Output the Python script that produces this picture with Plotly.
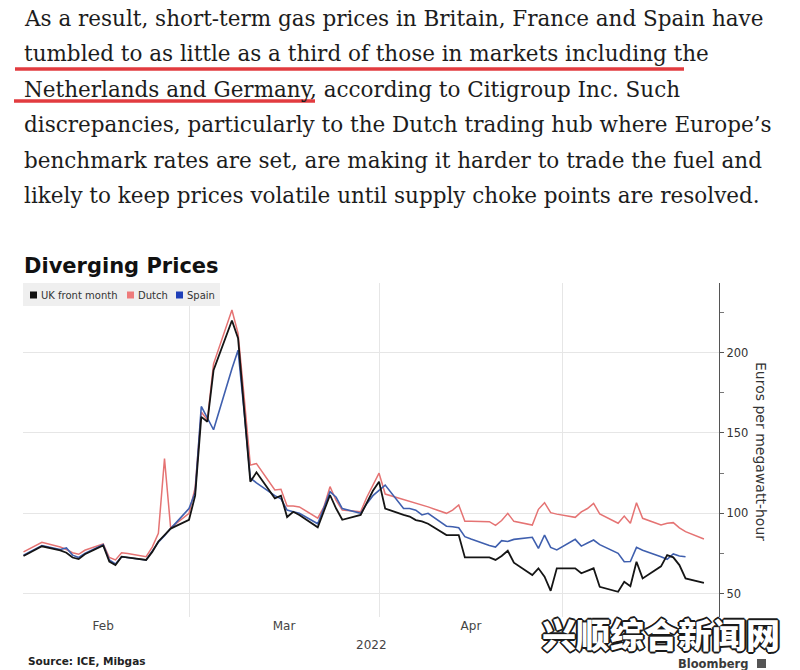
import plotly.graph_objects as go

# ---------------- data ----------------
dates = [
    "2022-02-02", "2022-02-03", "2022-02-04", "2022-02-05", "2022-02-08", "2022-02-09", "2022-02-10",
    "2022-02-11", "2022-02-12", "2022-02-15", "2022-02-16", "2022-02-17", "2022-02-18", "2022-02-19",
    "2022-02-22", "2022-02-23", "2022-02-24", "2022-02-25", "2022-02-26",
    "2022-03-01", "2022-03-02", "2022-03-03", "2022-03-04", "2022-03-05", "2022-03-08", "2022-03-09",
    "2022-03-10", "2022-03-11", "2022-03-12", "2022-03-15", "2022-03-16", "2022-03-17", "2022-03-18",
    "2022-03-19", "2022-03-22", "2022-03-23", "2022-03-24", "2022-03-25", "2022-03-26", "2022-03-29",
    "2022-03-30", "2022-03-31",
    "2022-04-01", "2022-04-02", "2022-04-05", "2022-04-06", "2022-04-07", "2022-04-08", "2022-04-09",
    "2022-04-12", "2022-04-13", "2022-04-14", "2022-04-15", "2022-04-16", "2022-04-19", "2022-04-20",
    "2022-04-21", "2022-04-22", "2022-04-23", "2022-04-26", "2022-04-27", "2022-04-28", "2022-04-29",
    "2022-04-30",
    "2022-05-03", "2022-05-04", "2022-05-05", "2022-05-06", "2022-05-07", "2022-05-10", "2022-05-11",
    "2022-05-12", "2022-05-13", "2022-05-14", "2022-05-17", "2022-05-18", "2022-05-19", "2022-05-20",
    "2022-05-21", "2022-05-24",
]

uk_front_month = [
    73.4, 75.5, 77.5, 79.5, 77, 75.5, 72.5, 71.5, 74.5, 80, 70, 67.8, 73, 72.5, 71, 76, 82.5, 86.5, 90.5,
    96, 111, 160, 157, 189, 220, 209, 166, 119.7, 125.5, 109.3, 111, 97.7, 101, 99, 91.3, 101, 111.4, 103,
    96, 99, 107, 114,
    119.7, 103, 99, 98, 95.8, 95, 93.5, 86.5, 86.5, 86.5, 72.6, 72.6, 72.6, 71, 73.5, 76.7, 69.3, 61.6,
    65.8, 60.6, 51.8, 65.8,
    65.8, 62.7, 64.5, 65.8, 54.3, 51.2, 57.4, 54.7, 69.9, 59.5, 67, 74, 72.6, 67.8, 59.5, 56.8,
]

dutch = [
    76, 78, 80, 82, 79, 77.5, 75.5, 74.5, 77, 81, 72.5, 71, 75.5, 75, 73, 79, 87.5, 134, 91,
    100, 116, 163, 158, 193, 226.5, 212, 172, 130, 131, 114.5, 115, 104.5, 104.5, 104, 97, 104, 116.6,
    108, 102, 101, 110, 118,
    125, 112, 108.6, 107.5, 106.6, 105, 104, 100, 102, 105.2, 95, 95, 94.8, 92.5, 95.5, 100, 95, 92.7,
    102.5, 106.6, 100.4, 99.5,
    97.5, 100.9, 103, 106.2, 99.7, 93.8, 98.3, 93.8, 106.6, 96.9, 92.7, 93.8, 94.2, 91, 88.6, 84,
]

spain = [
    74, 76, 78, 80, 77.5, 78.5, 74, 72.5, 75, 80.5, 71, 68.5, 73, 72.5, 71, 76.5, 82, 86, 90.5,
    103, 113, 166.5, 159, 152, 190, 201.5, 163, 122, 119, 111, 109, 102, 101, 100, 93.5, 104, 113.5, 110,
    103, 100, 106, 111,
    114.5, 117.6, 103, 103, 102, 99, 100, 92, 91.7, 91, 85.5, 84, 80, 79, 83, 82.5, 83.8, 85.1, 78.2,
    86.5, 78.8, 77.2,
    83.8, 79.6, 81.5, 83.4, 80.5, 75.1, 69.9, 70, 78.8, 77, 73, 71.4, 74.7, 73.5, 73, None,
]

series_names = ["UK front month", "Dutch", "Spain"]
series_colors = ["#151515", "#e57373", "#3f5fae"]
legend_colors = ["#111111", "#ee7b7b", "#1f3fb8"]

paragraph = [
    "As a result, short-term gas prices in Britain, France and Spain have",
    "tumbled to as little as a third of those in markets including the",
    "Netherlands and Germany, according to Citigroup Inc. Such",
    "discrepancies, particularly to the Dutch trading hub where Europe\u2019s",
    "benchmark rates are set, are making it harder to trade the fuel and",
    "likely to keep prices volatile until supply choke points are resolved.",
]

# ---------------- layout helpers (pixel -> paper) ----------------
W, H = 800, 670
L, R, T, B = 23, 81, 283, 53
PW, PH = W - L - R, H - T - B


def px(x):
    return (x - L) / PW


def py(y):
    return (H - B - y) / PH


fig = go.Figure()

for name, vals, col, lw in [("Dutch", dutch, series_colors[1], 1.5),
                            ("Spain", spain, series_colors[2], 1.6),
                            ("UK front month", uk_front_month, series_colors[0], 1.8)]:
    fig.add_trace(go.Scatter(x=dates, y=vals, name=name, mode="lines",
                             line=dict(color=col, width=lw), showlegend=False,
                             connectgaps=False))

annotations = []
shapes = []

# paragraph
para_y = [18, 53.5, 89, 125, 160.5, 196]
for txt, yy in zip(paragraph, para_y):
    annotations.append(dict(text=txt, x=px(22), y=py(yy), xref="paper", yref="paper",
                            xanchor="left", yanchor="middle", showarrow=False,
                            font=dict(family="DejaVu Serif", size=21.5, color="#1c1c1c")))

# red underlines
for x0, x1, yy in [(15, 684, 69), (14, 315, 101)]:
    shapes.append(dict(type="line", xref="paper", yref="paper", x0=px(x0), x1=px(x1),
                       y0=py(yy), y1=py(yy), line=dict(color="#e23b3f", width=3.5), layer="above"))

# title
annotations.append(dict(text="<b>Diverging Prices</b>", x=px(22), y=py(266), xref="paper", yref="paper",
                        xanchor="left", yanchor="middle", showarrow=False,
                        font=dict(family="DejaVu Sans", size=21, color="#111111")))

# legend box
shapes.append(dict(type="rect", xref="paper", yref="paper", x0=px(23), x1=px(220), y0=py(306), y1=py(283),
                   fillcolor="#efefef", line=dict(width=0), layer="above"))
leg_sq = [30, 127, 176]
leg_tx = [39, 136, 185]
for nm, col, sx, tx in zip(series_names, legend_colors, leg_sq, leg_tx):
    shapes.append(dict(type="rect", xref="paper", yref="paper", x0=px(sx), x1=px(sx + 7),
                       y0=py(298.5), y1=py(291.5), fillcolor=col, line=dict(width=0), layer="above"))
    annotations.append(dict(text=nm, x=px(tx), y=py(295), xref="paper", yref="paper",
                            xanchor="left", yanchor="middle", showarrow=False,
                            font=dict(family="DejaVu Sans", size=10, color="#333333")))

# y axis title (reads top to bottom)
annotations.append(dict(text="Euros per megawatt-hour", x=px(761), y=py(451), xref="paper", yref="paper",
                        xanchor="center", yanchor="middle", showarrow=False, textangle=90,
                        font=dict(family="DejaVu Sans", size=14, color="#333333")))

# year label
annotations.append(dict(text="2022", x=px(372), y=py(645), xref="paper", yref="paper",
                        xanchor="center", yanchor="middle", showarrow=False,
                        font=dict(family="DejaVu Sans", size=12, color="#444444")))

# source
annotations.append(dict(text="<b>Source: ICE, Mibgas</b>", x=px(26), y=py(661), xref="paper", yref="paper",
                        xanchor="left", yanchor="middle", showarrow=False,
                        font=dict(family="DejaVu Sans", size=10.5, color="#222222")))

# Bloomberg
annotations.append(dict(text="<b>Bloomberg</b>", x=px(750), y=py(664), xref="paper", yref="paper",
                        xanchor="right", yanchor="middle", showarrow=False,
                        font=dict(family="DejaVu Sans", size=11.5, color="#3a3a3a")))
shapes.append(dict(type="rect", xref="paper", yref="paper", x0=px(757), x1=px(766), y0=py(668), y1=py(659),
                   fillcolor="#555555", line=dict(width=0), layer="above"))

# watermark
outline = ", ".join(f"{dx}px {dy}px 0 #1a1a1a" for dx, dy in
                    [(1, 0), (-1, 0), (0, 1), (0, -1), (1, 1), (-1, -1), (1, -1), (-1, 1),
                     (2, 0), (-2, 0), (0, 2), (0, -2)])
annotations.append(dict(text="兴顺综合新闻网", x=px(661), y=py(633), xref="paper", yref="paper",
                        xanchor="center", yanchor="middle", showarrow=False,
                        font=dict(family="Noto Sans CJK SC", size=34, color="#ffffff",
                                  weight=900, shadow=outline)))

fig.update_layout(
    width=W, height=H,
    margin=dict(l=L, r=R, t=T, b=B),
    paper_bgcolor="white", plot_bgcolor="white",
    showlegend=False,
    annotations=annotations, shapes=shapes,
    xaxis=dict(type="date", range=["2022-02-01 22:00", "2022-05-26 11:00"],
               dtick="M1", tick0="2022-01-01", ticklabelmode="period", tickformat="%b",
               labelalias={"May": ""},
               showgrid=True, gridcolor="#e6e6e6", gridwidth=1, showline=False, zeroline=False,
               ticks="", tickfont=dict(family="DejaVu Sans", size=12, color="#444444")),
    yaxis=dict(range=[35.5, 243.3], side="right", tickvals=[50, 100, 150, 200],
               showgrid=True, gridcolor="#e6e6e6", gridwidth=1, zeroline=False,
               showline=True, linecolor="#555555", linewidth=1.2,
               ticks="outside", ticklen=4, tickcolor="#555555",
               minor=dict(tickvals=[75, 125, 175, 225], ticks="outside", ticklen=4, tickcolor="#777777",
                          showgrid=False),
               tickfont=dict(family="DejaVu Sans", size=11.5, color="#333333")),
)

fig.write_html("out.html")
